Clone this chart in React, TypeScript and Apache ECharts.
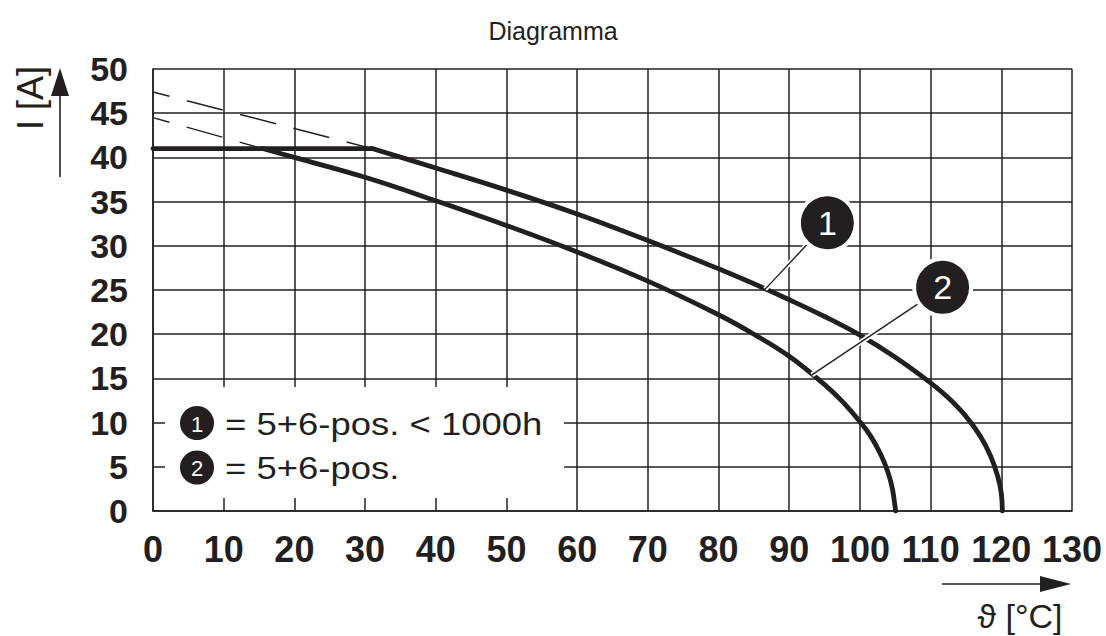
import React, { useEffect, useRef } from "react";
import * as echarts from "echarts";

const FONT = "'Liberation Sans', Arial, Helvetica, sans-serif";
const INK = "#231f20";

// X axis: temperature ticks, Y axis: current ticks
const xTicks = { min: 0, max: 130, interval: 10 };
const yTicks = { min: 0, max: 50, interval: 5 };

// Shared flat limit (41 A) from 0 to 31 °C
const flatLimit: number[][] = [
  [0, 41],
  [31, 41],
];

// Curve 1: 5+6-pos. < 1000h
const curve1: number[][] = [
  [31, 41],
  [40, 38.8],
  [50, 36.3],
  [60, 33.6],
  [70, 30.6],
  [80, 27.4],
  [85, 25.7],
  [90, 23.9],
  [95, 22.0],
  [100, 19.9],
  [105, 17.4],
  [110, 14.5],
  [112.5, 12.8],
  [115, 10.7],
  [117, 8.5],
  [118.5, 6.2],
  [119.5, 3.9],
  [120, 2.0],
  [120.15, 0],
];

// Curve 2: 5+6-pos.
const curve2: number[][] = [
  [15.5, 41],
  [20, 40.0],
  [30, 37.75],
  [40, 35.1],
  [50, 32.3],
  [60, 29.3],
  [70, 26.0],
  [80, 22.2],
  [85, 20.0],
  [90, 17.5],
  [95, 14.3],
  [97.5, 12.4],
  [100, 10.1],
  [101.5, 8.5],
  [103, 6.3],
  [104, 4.3],
  [104.6, 2.5],
  [104.95, 0.6],
  [105.05, 0],
];

// Dashed extrapolations
const dashed1: number[][] = [
  [0, 47.4],
  [31, 41],
];
const dashed2: number[][] = [
  [0, 44.5],
  [15.5, 41],
];

// Callouts: label, bubble centre, point on curve
const calloutLabels = ["1", "2"];
const calloutCenters: number[][] = [
  [95.4, 32.6],
  [111.7, 25.3],
];
const calloutAnchors: number[][] = [
  [86.6, 25.1],
  [93.2, 15.4],
];

const legendTexts = ["= 5+6-pos. < 1000h", "= 5+6-pos."];

export default function App() {
  const ref = useRef<HTMLDivElement>(null);

  useEffect(() => {
    if (!ref.current) return;
    const chart = echarts.init(ref.current, null, { renderer: "svg" });

    const leaderSeries: any[] = [];
    calloutAnchors.forEach((a, i) => {
      const c = calloutCenters[i];
      leaderSeries.push({
        type: "line",
        data: [a, c],
        symbol: "none",
        silent: true,
        z: 5,
        lineStyle: { color: "#ffffff", width: 5, cap: "butt" },
      });
      leaderSeries.push({
        type: "line",
        data: [a, c],
        symbol: "none",
        silent: true,
        z: 6,
        lineStyle: { color: INK, width: 1.4 },
      });
    });

    const curveStyle = { color: INK, width: 4.8, cap: "round", join: "round" };

    const option: any = {
      animation: false,
      backgroundColor: "#ffffff",
      textStyle: { fontFamily: FONT, color: INK },
      title: {
        text: "Diagramma",
        left: "center",
        top: 13,
        textStyle: {
          fontSize: 25,
          fontWeight: "normal",
          color: INK,
          fontFamily: FONT,
        },
      },
      grid: { left: 153, right: 34, top: 69, bottom: 125, containLabel: false },
      xAxis: {
        type: "value",
        min: xTicks.min,
        max: xTicks.max,
        interval: xTicks.interval,
        axisLine: { show: true, lineStyle: { color: INK, width: 1.5 } },
        axisTick: { show: false },
        splitLine: { show: true, lineStyle: { color: INK, width: 1.5 } },
        axisLabel: {
          fontSize: 36,
          fontWeight: "bold",
          color: INK,
          fontFamily: FONT,
          margin: 20,
        },
      },
      yAxis: {
        type: "value",
        min: yTicks.min,
        max: yTicks.max,
        interval: yTicks.interval,
        axisLine: { show: true, lineStyle: { color: INK, width: 1.5 } },
        axisTick: { show: false },
        splitLine: { show: true, lineStyle: { color: INK, width: 1.5 } },
        axisLabel: {
          fontSize: 34,
          fontWeight: "bold",
          color: INK,
          fontFamily: FONT,
          margin: 25,
          padding: [6, 0, 0, 0],
        },
      },
      series: [
        {
          type: "line",
          data: dashed1,
          symbol: "none",
          z: 3,
          lineStyle: { color: INK, width: 1.4, type: [37, 18], dashOffset: 20 },
        },
        {
          type: "line",
          data: dashed2,
          symbol: "none",
          z: 3,
          lineStyle: { color: INK, width: 1.4, type: [37, 18], dashOffset: 20 },
        },
        {
          type: "line",
          data: flatLimit,
          symbol: "none",
          z: 4,
          lineStyle: curveStyle,
        },
        {
          type: "line",
          data: curve1,
          symbol: "none",
          smooth: 0.4,
          z: 4,
          lineStyle: curveStyle,
        },
        {
          type: "line",
          data: curve2,
          symbol: "none",
          smooth: 0.4,
          z: 4,
          lineStyle: curveStyle,
        },
        ...leaderSeries,
        {
          type: "scatter",
          data: calloutCenters.map((c, i) => ({
            value: c,
            name: calloutLabels[i],
          })),
          symbol: "circle",
          symbolSize: 57,
          z: 8,
          itemStyle: {
            color: INK,
            borderColor: "#ffffff",
            borderWidth: 4,
            opacity: 1,
          },
          label: {
            show: true,
            position: "inside",
            formatter: (p: any) => p.name,
            color: "#ffffff",
            fontSize: 34,
            fontFamily: FONT,
          },
        },
      ],
      graphic: [
        // legend panel background (hides grid)
        {
          type: "rect",
          z: 1,
          shape: { x: 165, y: 387, width: 399, height: 111 },
          style: { fill: "#ffffff" },
        },
        {
          type: "circle",
          z: 10,
          shape: { cx: 197, cy: 423, r: 17 },
          style: { fill: INK },
        },
        {
          type: "text",
          z: 11,
          x: 197,
          y: 424,
          style: {
            text: calloutLabels[0],
            fill: "#fff",
            fontSize: 22,
            fontFamily: FONT,
            align: "center",
            verticalAlign: "middle",
          },
        },
        {
          type: "circle",
          z: 10,
          shape: { cx: 197, cy: 467.5, r: 17 },
          style: { fill: INK },
        },
        {
          type: "text",
          z: 11,
          x: 197,
          y: 468.5,
          style: {
            text: calloutLabels[1],
            fill: "#fff",
            fontSize: 22,
            fontFamily: FONT,
            align: "center",
            verticalAlign: "middle",
          },
        },
        {
          type: "text",
          z: 11,
          x: 225,
          y: 424,
          scaleX: 1.14,
          style: {
            text: legendTexts[0],
            fill: INK,
            fontSize: 32,
            fontFamily: FONT,
            align: "left",
            verticalAlign: "middle",
          },
        },
        {
          type: "text",
          z: 11,
          x: 225,
          y: 468,
          scaleX: 1.14,
          style: {
            text: legendTexts[1],
            fill: INK,
            fontSize: 32,
            fontFamily: FONT,
            align: "left",
            verticalAlign: "middle",
          },
        },
        // Y axis name + arrow
        {
          type: "text",
          z: 11,
          x: 30,
          y: 98,
          rotation: Math.PI / 2,
          style: {
            text: "I [A]",
            fill: INK,
            fontSize: 36,
            fontFamily: FONT,
            align: "center",
            verticalAlign: "middle",
          },
        },
        {
          type: "line",
          z: 11,
          shape: { x1: 60, y1: 177, x2: 60, y2: 90 },
          style: { stroke: INK, lineWidth: 1.6 },
        },
        {
          type: "polygon",
          z: 11,
          shape: {
            points: [
              [60, 68],
              [51, 96],
              [69, 96],
            ],
          },
          style: { fill: INK },
        },
        // X axis name + arrow
        {
          type: "line",
          z: 11,
          shape: { x1: 942, y1: 584, x2: 1045, y2: 584 },
          style: { stroke: INK, lineWidth: 1.6 },
        },
        {
          type: "polygon",
          z: 11,
          shape: {
            points: [
              [1071, 584],
              [1040, 576],
              [1040, 592],
            ],
          },
          style: { fill: INK },
        },
        {
          type: "text",
          z: 11,
          x: 1020,
          y: 616,
          style: {
            text: "ϑ [°C]",
            fill: INK,
            fontSize: 34,
            fontFamily: FONT,
            align: "center",
            verticalAlign: "middle",
          },
        },
      ],
    };

    chart.setOption(option);
    return () => chart.dispose();
  }, []);

  return (
    <div
      ref={ref}
      style={{ position: "absolute", left: 0, top: 0, width: 1106, height: 636 }}
    />
  );
}
